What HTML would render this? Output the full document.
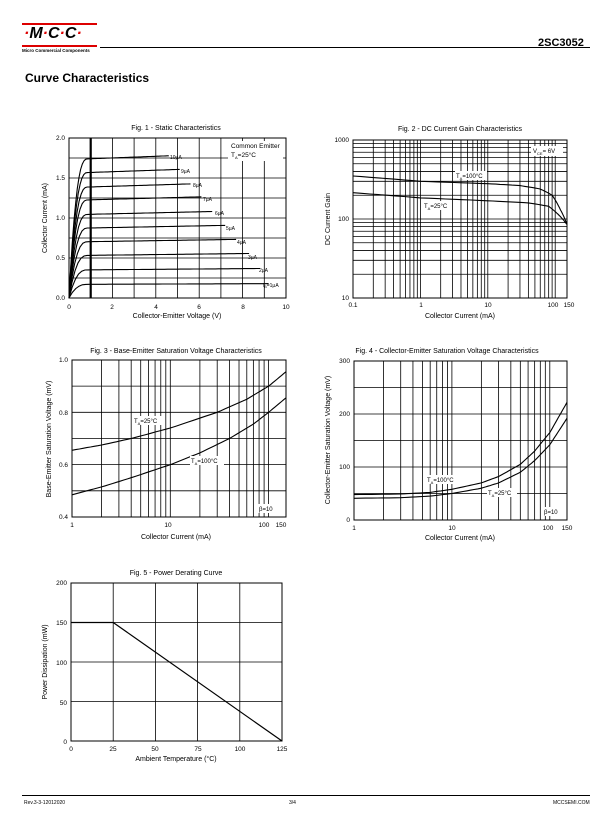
<!DOCTYPE html><html><head><meta charset="utf-8"><style>
body{margin:0;width:612px;height:825px;background:#fff;position:relative;font-family:"Liberation Sans",sans-serif;overflow:hidden}
.a{position:absolute;white-space:nowrap}
svg text{font-family:"Liberation Sans",sans-serif}
</style></head><body>
<div class="a" style="left:22px;top:23px;width:75px;height:2px;background:#d00"></div>
<div class="a" style="left:24px;top:25px;font:italic bold 16px 'Liberation Sans',sans-serif;letter-spacing:0px"><span style="color:#d00">·</span>M<span style="color:#d00">·</span>C<span style="color:#d00">·</span>C<span style="color:#d00">·</span></div>
<div class="a" style="left:22px;top:45px;width:75px;height:2px;background:#d00"></div>
<div class="a" style="left:22px;top:48px;font-size:4.5px;font-weight:bold">Micro Commercial Components</div>
<div class="a" style="left:100px;top:47px;width:490px;height:1px;background:#000"></div>
<div class="a" style="left:538px;top:37px;font-size:11px;font-weight:bold">2SC3052</div>
<div class="a" style="left:25px;top:71px;font-size:12px;font-weight:bold">Curve Characteristics</div>
<div class="a" style="left:22px;top:795px;width:568px;height:1px;background:#000"></div>
<div class="a" style="left:24px;top:800px;font-size:5px">Rev.3-3-12012020</div>
<div class="a" style="left:289px;top:800px;font-size:5px">3/4</div>
<div class="a" style="left:553px;top:800px;font-size:5px">MCCSEMI.COM</div>
<svg width="612" height="825" style="position:absolute;left:0;top:0" font-size="6.5">
<g id="g" stroke="#000" fill="none"></g>
<g text-anchor="middle" font-size="7">
<text x="176" y="130">Fig. 1 - Static Characteristics</text>
<text x="460" y="131">Fig. 2 - DC Current Gain Characteristics</text>
<text x="176" y="353">Fig. 3 - Base-Emitter Saturation Voltage Characteristics</text>
<text x="447" y="353">Fig. 4 - Collector-Emitter Saturation Voltage Characteristics</text>
<text x="176" y="575">Fig. 5 - Power Derating Curve</text>
<text x="177" y="318">Collector-Emitter Voltage (V)</text>
<text x="460" y="318">Collector Current (mA)</text>
<text x="176" y="539">Collector Current (mA)</text>
<text x="460" y="540">Collector Current (mA)</text>
<text x="176" y="761">Ambient Temperature (°C)</text>
<text transform="translate(47,218) rotate(-90)">Collector Current (mA)</text>
<text transform="translate(330,219) rotate(-90)">DC Current Gain</text>
<text transform="translate(51,439) rotate(-90)">Base-Emitter Saturation Voltage (mV)</text>
<text transform="translate(330,440) rotate(-90)">Collector-Emitter Saturation Voltage (mV)</text>
<text transform="translate(47,662) rotate(-90)">Power Dissipation  (mW)</text>
</g>
<g text-anchor="end">
<text x="65" y="140">2.0</text><text x="65" y="180">1.5</text><text x="65" y="220">1.0</text><text x="65" y="260">0.5</text><text x="65" y="300">0.0</text>
<text x="349" y="142">1000</text><text x="349" y="221">100</text><text x="349" y="300">10</text>
<text x="68" y="362">1.0</text><text x="68" y="415">0.8</text><text x="68" y="467">0.6</text><text x="68" y="519">0.4</text>
<text x="350" y="363">300</text><text x="350" y="416">200</text><text x="350" y="469">100</text><text x="350" y="522">0</text>
<text x="67" y="585">200</text><text x="67" y="625">150</text><text x="67" y="665">100</text><text x="67" y="705">50</text><text x="67" y="744">0</text>
</g>
<g text-anchor="middle">
<text x="69" y="309">0</text><text x="112" y="309">2</text><text x="156" y="309">4</text><text x="199" y="309">6</text><text x="243" y="309">8</text><text x="286" y="309">10</text>
<text x="353" y="307">0.1</text><text x="421" y="307">1</text><text x="488" y="307">10</text><text x="553" y="307">100</text><text x="569" y="307">150</text>
<text x="72" y="527">1</text><text x="168" y="527">10</text><text x="264" y="527">100</text><text x="281" y="527">150</text>
<text x="354" y="530">1</text><text x="452" y="530">10</text><text x="548" y="530">100</text><text x="567" y="530">150</text>
<text x="71" y="751">0</text><text x="113" y="751">25</text><text x="155" y="751">50</text><text x="198" y="751">75</text><text x="240" y="751">100</text><text x="282" y="751">125</text>
</g>
<g font-size="5">
<rect x="228" y="141" width="55" height="20" fill="#fff"/>
<text x="231" y="148" font-size="6.5">Common Emitter</text><text x="231" y="157" font-size="6.5">T<tspan font-size="4" dy="2">A</tspan><tspan dy="-2">=25°C</tspan></text>
<text x="170" y="159">10μA</text><text x="181" y="173">9μA</text><text x="193" y="187">8μA</text><text x="203" y="201">7μA</text><text x="215" y="215">6μA</text><text x="226" y="230">5μA</text><text x="237" y="244">4μA</text><text x="248" y="259">3μA</text><text x="259" y="272">2μA</text><text x="263" y="287">I<tspan font-size="3.5" dy="1">B</tspan><tspan dy="-1">=1μA</tspan></text>
<rect x="531" y="146" width="32" height="10" fill="#fff"/><text x="533" y="153" font-size="6">V<tspan font-size="4" dy="2">CE</tspan><tspan dy="-2">= 6V</tspan></text>
<rect x="455" y="171" width="32" height="9" fill="#fff"/><text x="456" y="178" font-size="6">T<tspan font-size="4" dy="2">A</tspan><tspan dy="-2">=100°C</tspan></text>
<rect x="423" y="201" width="28" height="9" fill="#fff"/><text x="424" y="208" font-size="6">T<tspan font-size="4" dy="2">A</tspan><tspan dy="-2">=25°C</tspan></text>
<rect x="133" y="416" width="30" height="9" fill="#fff"/><text x="134" y="423" font-size="6">T<tspan font-size="4" dy="2">A</tspan><tspan dy="-2">=25°C</tspan></text>
<rect x="190" y="456" width="34" height="9" fill="#fff"/><text x="191" y="463" font-size="6">T<tspan font-size="4" dy="2">A</tspan><tspan dy="-2">=100°C</tspan></text>
<rect x="258" y="504" width="20" height="9" fill="#fff"/><text x="259" y="511" font-size="6">β=10</text>
<rect x="426" y="475" width="34" height="9" fill="#fff"/><text x="427" y="482" font-size="6">T<tspan font-size="4" dy="2">A</tspan><tspan dy="-2">=100°C</tspan></text>
<rect x="487" y="488" width="30" height="9" fill="#fff"/><text x="488" y="495" font-size="6">T<tspan font-size="4" dy="2">A</tspan><tspan dy="-2">=25°C</tspan></text>
<rect x="543" y="507" width="20" height="9" fill="#fff"/><text x="544" y="514" font-size="6">β=10</text>
</g>
</svg>
<script>
var g=document.getElementById('g'),s='';
function L(x1,y1,x2,y2,w){s+='<line x1="'+x1+'" y1="'+y1+'" x2="'+x2+'" y2="'+y2+'" stroke-width="'+(w||0.8)+'"/>';}
function P(pts,w){s+='<path d="M'+pts.map(function(p){return p[0].toFixed(1)+','+p[1].toFixed(1)}).join('L')+'" stroke-width="'+(w||1.2)+'"/>';}
function R(x,y,w,h){s+='<rect x="'+x+'" y="'+y+'" width="'+w+'" height="'+h+'" stroke-width="1"/>';}
function lg(a){return Math.log(a)/Math.LN10}
// Fig1
var X1=function(v){return 69+v*21.7},Y1=function(i){return 298-i*80};
for(var v=1;v<10;v++)L(X1(v),138,X1(v),298);
for(var i=0.25;i<2;i+=0.25)L(69,Y1(i),286,Y1(i));
L(X1(1),138,X1(1),298,2.2);R(69,138,217,160);
var lv=[0.17,0.35,0.53,0.70,0.87,1.04,1.22,1.38,1.56,1.73],en=[9.2,8.8,8.3,7.7,7.2,6.6,6.1,5.6,5.1,4.6];
for(var n=0;n<10;n++){var p=[];for(var k=0;k<=60;k++){var V=k/60*en[n];var f=V<0.85?1-Math.pow(1-V/0.85,2.6):1;var I=lv[n]*f*(1+0.006*V);p.push([X1(V),Y1(I)]);}P(p,1.1);}
// Fig2
var X2=function(a){return 353+(lg(a)+1)*67.4},Y2=function(a){return 298-(lg(a)-1)*79};
[0.1,1,10,100].forEach(function(d){for(var m=1;m<10;m++){var a=d*m;if(a>150)break;L(X2(a),140,X2(a),298);}});
[10,100].forEach(function(d){for(var m=1;m<10;m++)L(353,Y2(d*m),567,Y2(d*m));});
R(353,140,214,158);
function LP(data,fx,fy){var o=[];for(var i=0;i<data.length-1;i++){var a=data[i],b=data[i+1];for(var k=0;k<8;k++){var t=k/8;var la=lg(a[0]),lb=lg(b[0]);o.push([fx(Math.pow(10,la+(lb-la)*t)),fy(a[1]+(b[1]-a[1])*t)]);}}var e=data[data.length-1];o.push([fx(e[0]),fy(e[1])]);P(o,1.1);}
LP([[0.1,350],[1,300],[10,280],[30,265],[60,240],[90,200],[120,130],[150,85]],X2,Y2);
LP([[0.1,215],[1,185],[10,170],[40,160],[80,145],[110,115],[150,85]],X2,Y2);
// Fig3
var X3=function(a){return 72+lg(a)*98.3},Y3=function(v){return 517-(v-0.4)*261.7};
[1,10,100].forEach(function(d){for(var m=1;m<10;m++){var a=d*m;if(a>150)break;L(X3(a),360,X3(a),517);}});
for(var v=0.5;v<1;v+=0.1)L(72,Y3(v),286,Y3(v));R(72,360,214,157);
LP([[1,0.655],[2,0.675],[4,0.70],[10,0.74],[30,0.80],[60,0.85],[100,0.90],[150,0.955]],X3,Y3);
LP([[1,0.485],[2,0.515],[4,0.55],[10,0.60],[20,0.645],[40,0.70],[70,0.755],[100,0.80],[150,0.855]],X3,Y3);
// Fig4
var X4=function(a){return 354+lg(a)*97.9},Y4=function(v){return 520-v*0.53};
[1,10,100].forEach(function(d){for(var m=1;m<10;m++){var a=d*m;if(a>150)break;L(X4(a),361,X4(a),520);}});
for(var v=50;v<300;v+=50)L(354,Y4(v),567,Y4(v));R(354,361,213,159);
LP([[1,48],[3,49],[6,52],[10,58],[20,70],[30,82],[50,105],[70,130],[100,165],[150,222]],X4,Y4);
LP([[1,41],[3,42],[6,45],[10,50],[20,60],[30,70],[50,90],[70,112],[100,142],[150,192]],X4,Y4);
// Fig5
var X5=function(t){return 71+t*1.688},Y5=function(p){return 741-p*0.79};
for(var t=25;t<125;t+=25)L(X5(t),583,X5(t),741);for(var p=50;p<200;p+=50)L(71,Y5(p),282,Y5(p));R(71,583,211,158);
P([[X5(0),Y5(150)],[X5(25),Y5(150)],[X5(125),Y5(0)]],1.2);
g.innerHTML=s;
</script>
</body></html>
